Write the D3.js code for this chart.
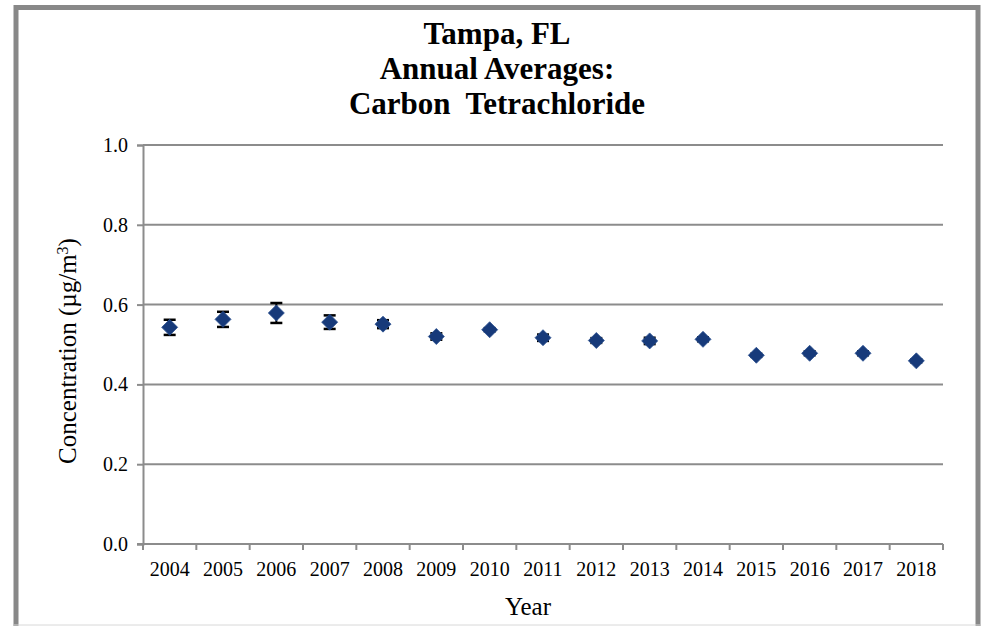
<!DOCTYPE html>
<html>
<head>
<meta charset="utf-8">
<script src="https://cdn.jsdelivr.net/npm/d3@7"></script>
<style>
  body { margin: 0; background: #fff; }
  svg text { font-family: "Liberation Serif", "Times New Roman", serif; white-space: pre; }
</style>
</head>
<body>
<svg id="chart" width="984" height="626"></svg>
<script>
var years = ["2004", "2005", "2006", "2007", "2008", "2009", "2010", "2011",
             "2012", "2013", "2014", "2015", "2016", "2017", "2018"];
var averages = [0.543, 0.563, 0.579, 0.556, 0.551, 0.520, 0.537, 0.517,
                0.510, 0.509, 0.513, 0.473, 0.478, 0.478, 0.459];
var errors = [0.019, 0.019, 0.025, 0.017, 0.010, 0.008, 0.004, 0.008,
              0.006, 0.008, 0.005, 0.004, 0.005, 0.005, 0.004];
var yTicks = [0.0, 0.2, 0.4, 0.6, 0.8, 1.0];
var titleLines = ["Tampa, FL", "Annual Averages:", "Carbon  Tetrachloride"];

var svg = d3.select("svg#chart");

// outer frame
svg.append("rect")
    .attr("x", 16).attr("y", 7.5)
    .attr("width", 962).attr("height", 640)
    .attr("fill", "none")
    .attr("stroke", "#888888")
    .attr("stroke-width", 5);
svg.append("line")
    .attr("x1", 14).attr("x2", 980)
    .attr("y1", 625).attr("y2", 625)
    .attr("stroke", "#d8d8d8")
    .attr("stroke-width", 1);

var margin = { top: 145, left: 143 };
var plotWidth = 800;
var plotHeight = 399;

var plot = svg.append("g")
    .attr("transform", "translate(" + margin.left + "," + margin.top + ")");

var x = d3.scaleBand().domain(years).range([0, plotWidth]);
var y = d3.scaleLinear().domain([0, 1]).range([plotHeight, 0]);

// gridlines
plot.append("g")
    .selectAll("line")
    .data(yTicks.filter(function(d) { return d > 0; }))
    .join("line")
    .attr("x1", 0).attr("x2", plotWidth)
    .attr("y1", function(d) { return y(d); })
    .attr("y2", function(d) { return y(d); })
    .attr("stroke", "#8c8c8c")
    .attr("stroke-width", 2);

// y axis
var yAxis = d3.axisLeft(y).tickValues(yTicks).tickFormat(d3.format(".1f")).tickSize(6).tickPadding(9);
var yGroup = plot.append("g").call(yAxis);
yGroup.select(".domain").attr("stroke", "#8c8c8c").attr("stroke-width", 2);
yGroup.selectAll(".tick line").attr("stroke", "#8c8c8c").attr("stroke-width", 2);
yGroup.selectAll(".tick text")
    .style("font-size", "20px")
    .attr("fill", "#000");

// x axis, ticks at category boundaries
var xGroup = plot.append("g").attr("transform", "translate(0," + plotHeight + ")");
xGroup.append("line")
    .attr("x1", -6).attr("x2", plotWidth)
    .attr("stroke", "#8c8c8c").attr("stroke-width", 2);
xGroup.selectAll("line.tk")
    .data(years.concat(["end"]))
    .join("line")
    .attr("class", "tk")
    .attr("x1", function(d, i) { return i * x.bandwidth(); })
    .attr("x2", function(d, i) { return i * x.bandwidth(); })
    .attr("y1", 0).attr("y2", 6)
    .attr("stroke", "#8c8c8c").attr("stroke-width", 2);
xGroup.selectAll("text")
    .data(years)
    .join("text")
    .attr("x", function(d) { return x(d) + x.bandwidth() / 2; })
    .attr("y", 32)
    .attr("text-anchor", "middle")
    .style("font-size", "20px")
    .text(function(d) { return d; });

var points = years.map(function(d, i) {
    return { year: d, value: averages[i], err: errors[i] };
});

// error bars
var eb = plot.append("g").selectAll("g")
    .data(points)
    .join("g")
    .attr("transform", function(d) { return "translate(" + (x(d.year) + x.bandwidth() / 2) + ",0)"; });
eb.append("line")
    .attr("y1", function(d) { return y(d.value - d.err); })
    .attr("y2", function(d) { return y(d.value + d.err); })
    .attr("stroke", "#000").attr("stroke-width", 2);
eb.append("line")
    .attr("x1", -6).attr("x2", 6)
    .attr("y1", function(d) { return y(d.value + d.err); })
    .attr("y2", function(d) { return y(d.value + d.err); })
    .attr("stroke", "#000").attr("stroke-width", 2.5);
eb.append("line")
    .attr("x1", -6).attr("x2", 6)
    .attr("y1", function(d) { return y(d.value - d.err); })
    .attr("y2", function(d) { return y(d.value - d.err); })
    .attr("stroke", "#000").attr("stroke-width", 2.5);

// diamond markers
plot.append("g").selectAll("path")
    .data(points)
    .join("path")
    .attr("d", "M0,-8L8,0L0,8L-8,0Z")
    .attr("transform", function(d) {
        return "translate(" + (x(d.year) + x.bandwidth() / 2) + "," + y(d.value) + ")";
    })
    .attr("fill", "#173a7a")
    .attr("stroke", "#2a4f8f")
    .attr("stroke-width", 0.8);

// title
svg.append("g").selectAll("text")
    .data(titleLines)
    .join("text")
    .attr("x", 497)
    .attr("y", function(d, i) { return 44 + i * 35; })
    .attr("text-anchor", "middle")
    .style("font-size", "31px")
    .style("font-weight", "bold")
    .text(function(d) { return d; });

// axis titles
svg.append("text")
    .attr("x", 528).attr("y", 615)
    .attr("text-anchor", "middle")
    .style("font-size", "25px")
    .text("Year");

var yLabel = svg.append("text")
    .attr("transform", "translate(76,351) rotate(-90)")
    .attr("text-anchor", "middle")
    .style("font-size", "25px");
yLabel.append("tspan").text("Concentration (µg/m");
yLabel.append("tspan").attr("baseline-shift", "super").style("font-size", "16px").text("3");
yLabel.append("tspan").text(")");
</script>
</body>
</html>
